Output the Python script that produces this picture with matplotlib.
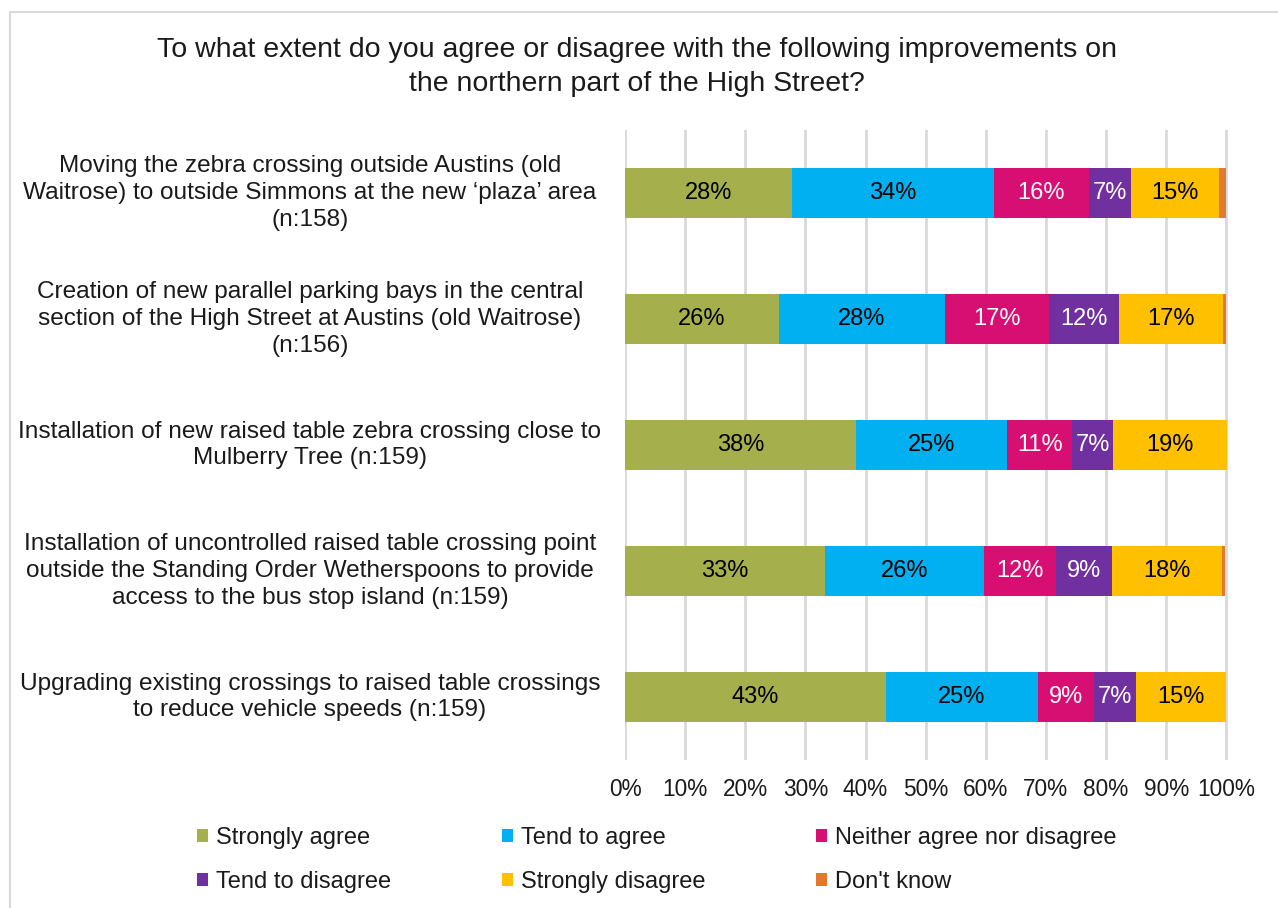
import matplotlib
matplotlib.use("Agg")
import matplotlib.pyplot as plt
from matplotlib.patches import Rectangle
from matplotlib.transforms import blended_transform_factory
import numpy as np

plt.rcParams['font.family'] = ['Liberation Sans', 'DejaVu Sans']

title = ("To what extent do you agree or disagree with the following improvements on\n"
         "the northern part of the High Street?")

categories = [
    "Moving the zebra crossing outside Austins (old\nWaitrose) to outside Simmons at the new \u2018plaza\u2019 area\n(n:158)",
    "Creation of new parallel parking bays in the central\nsection of the High Street at Austins (old Waitrose)\n(n:156)",
    "Installation of new raised table zebra crossing close to\nMulberry Tree (n:159)",
    "Installation of uncontrolled raised table crossing point\noutside the Standing Order Wetherspoons to provide\naccess to the bus stop island (n:159)",
    "Upgrading existing crossings to raised table crossings\nto reduce vehicle speeds (n:159)",
]

series_names = ["Strongly agree", "Tend to agree", "Neither agree nor disagree",
                "Tend to disagree", "Strongly disagree", "Don't know"]

strongly_agree = [27.7, 25.6, 38.4, 33.3, 43.4]
tend_agree = [33.6, 27.6, 25.2, 26.4, 25.2]
neither = [15.8, 17.3, 10.7, 11.9, 9.4]
tend_disagree = [7.0, 11.6, 6.9, 9.4, 6.9]
strongly_disagree = [14.6, 17.3, 18.9, 18.2, 15.1]
dont_know = [1.3, 0.6, 0.0, 0.6, 0.0]

x_ticks = [0, 10, 20, 30, 40, 50, 60, 70, 80, 90, 100]
x_tick_labels = [f"{t}%" for t in x_ticks]

colors = ["#A5B04C", "#00B0F0", "#D80F73", "#7030A0", "#FFC000", "#E07A2E"]
label_colors = ["black", "black", "white", "white", "black", None]

series = [strongly_agree, tend_agree, neither, tend_disagree, strongly_disagree, dont_know]

TEXT = '#1a1a1a'

fig = plt.figure(figsize=(12.78, 9.08), dpi=100)
ax = fig.add_axes([0.489, 0.163, 0.4720, 0.694])

y = np.arange(len(categories))
left = np.zeros(len(categories))
for vals, name, col, lcol in zip(series, series_names, colors, label_colors):
    vals = np.array(vals)
    bars = ax.barh(y, vals, left=left, height=0.40, color=col, label=name,
                   edgecolor='none', zorder=3)
    if lcol is not None:
        for b, v in zip(bars, vals):
            if v >= 3:
                ax.text(b.get_x() + b.get_width() / 2, b.get_y() + b.get_height() / 2,
                        f"{v:.0f}%", ha='center', va='center', color=lcol,
                        fontsize=17, zorder=4)
    left += vals

ax.set_xlim(0, 100.3)
ax.set_ylim(len(categories) - 0.5, -0.5)
ax.set_xticks(x_ticks)
ax.set_xticklabels(x_tick_labels, fontsize=16.3, color=TEXT)
ax.tick_params(axis='x', length=0, pad=13)
ax.set_yticks([])
ax.grid(axis='x', color='#D9D9D9', linewidth=2, zorder=0)
for s in ax.spines.values():
    s.set_visible(False)

trans = blended_transform_factory(fig.transFigure, ax.transData)
for yi, cat in zip(y, categories):
    fig.text(0.2425, yi, cat, transform=trans, ha='center', va='center',
             fontsize=17.6, color=TEXT, linespacing=1.28)

fig.text(0.4985, 0.926, title, ha='center', va='center', fontsize=20.5,
         color=TEXT, linespacing=1.38)

handles, labels = ax.get_legend_handles_labels()
order = [0, 3, 1, 4, 2, 5]
leg = fig.legend([handles[i] for i in order], [labels[i] for i in order],
                 ncol=3, loc='center left', bbox_to_anchor=(197 / 1278, 0.0529),
                 borderpad=0, borderaxespad=0,
                 frameon=False, fontsize=17, handlelength=0.45, handleheight=0.45,
                 handletextpad=0.35, columnspacing=4.7, labelspacing=0.92)
for t in leg.get_texts():
    t.set_color(TEXT)

# outer chart frame
fig.add_artist(Rectangle((10 / 1278, -0.05), 1.2, 1 - 12 / 908 + 0.05,
                         transform=fig.transFigure, fill=False,
                         edgecolor='#D9D9D9', linewidth=1.5))

fig.savefig("out.png", dpi=100)
